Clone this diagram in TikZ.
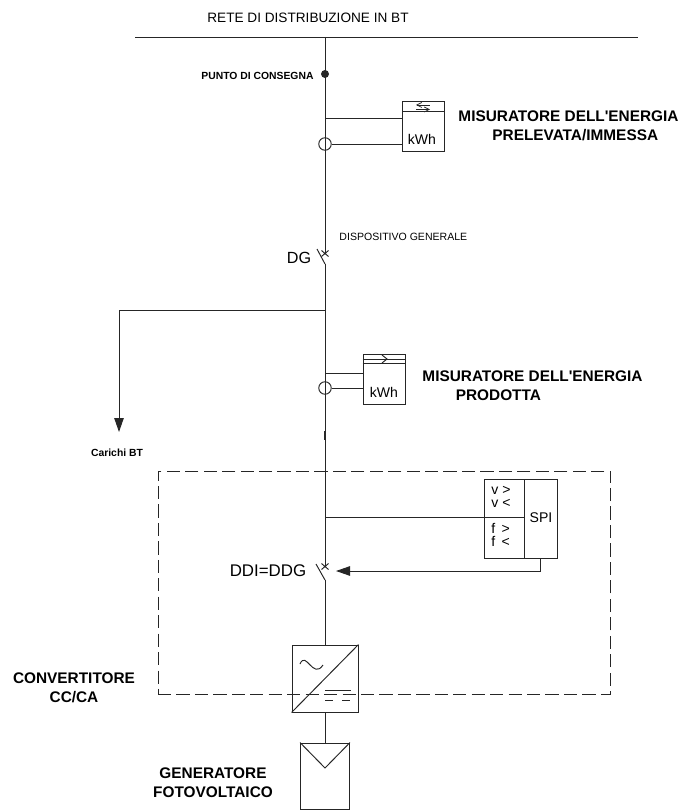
\documentclass[tikz,border=0pt]{standalone}
\usepackage{fontspec}
\setmainfont[Ligatures=TeXOff]{Liberation Sans}
\usepackage{tikz}
\usetikzlibrary{arrows.meta}

\begin{document}
\begin{tikzpicture}[x=0.02cm, y=-0.02cm, line width=0.55pt, color=black!85]
        %style
        \tikzset{meter/.style = {shape=rectangle, draw, minimum width = 0.84cm, minimum height = 1.0cm, inner sep=0pt}}
        \tikzset{panel/.style = {shape=rectangle, draw, inner sep=0pt}}
        \tikzset{relaycell/.style = {shape=rectangle, draw, inner sep=0pt, minimum height = 1.58cm}}
        \tikzset{joint/.style = {shape=circle, draw, inner sep=0pt, minimum size=0.25cm}}
        \tikzset{tag/.style = {inner sep=0pt, align=center, text=black, font=\fontsize{8}{9}\selectfont}}
        \tikzset{bigtag/.style = {inner sep=0pt, align=left, text=black, font=\fontsize{8.75}{10.9}\selectfont\bfseries}}
        \tikzset{smalltag/.style = {inner sep=0pt, text=black, font=\fontsize{5.9}{7}\selectfont\bfseries}}
        \tikzset{feed/.style = {-{Triangle[length=0.28cm, width=0.19cm]}}}
        \useasboundingbox (0,0) rectangle (683,810);
        % bus and main line
        \coordinate (busl) at (135,37);
        \coordinate (busr) at (638,37);
        \coordinate (bust) at (325,37);
        \coordinate (dgtop) at (325,254);
        \coordinate (dgbot) at (325,264);
        \coordinate (dgarm) at (317,249);
        \coordinate (tap) at (325,310);
        \coordinate (ddtop) at (325,567);
        \coordinate (ddbot) at (325,580);
        \coordinate (ddarm) at (316,564);
        \coordinate (spitap) at (325,517);
        \node[circle, fill, inner sep=0pt, minimum size=0.16cm] (point) at (325,74) {};
        \node[joint] (ctone) at (325,144) {};
        \node[joint] (cttwo) at (325,388) {};
        \node[meter] (meterone) at (423.5,126) {};
        \node[meter] (metertwo) at (384,379) {};
        \node[relaycell, minimum width=0.8cm] (relay) at (504,518.5) {};
        \node[relaycell, minimum width=0.66cm] (spi) at (540.5,518.5) {};
        \node[panel, minimum width=1.32cm, minimum height=1.34cm] (inverter) at (325,678.5) {};
        \node[panel, minimum width=0.98cm, minimum height=1.32cm] (module) at (325,776) {};
        \node[draw, dash pattern=on 7.5pt off 3pt, minimum width=9.06cm, minimum height=4.46cm, inner sep=0pt] (zone) at (384.5,582.5) {};
        % main line
        \draw (busl) -- (busr);
        \draw (bust) -- (dgtop);
        \draw (dgbot) -- (dgarm);
        \draw (dgbot) -- (ddtop);
        \draw (ddbot) -- (ddarm);
        \draw (ddbot) -- (inverter.north);
        \draw (inverter.south) -- (module.north);
        \draw[line width=1.1pt] (325,431) -- (325,440);
        \draw (321.5,250.5) -- (328.5,256.5) (328.5,250.5) -- (321.5,256.5);
        \draw (321.5,563.5) -- (328.5,569.5) (328.5,563.5) -- (321.5,569.5);
        % meters
        \draw (325,118) -- (meterone.west |- 325,118);
        \draw (ctone) -- (meterone.west |- ctone);
        \draw (meterone.west |- 0,111) -- (meterone.east |- 0,111);
        \draw[-{Straight Barb[length=1mm,width=1mm]}, line width=0.4pt] (416,109.5) -- (430,109.5);
        \draw[{Straight Barb[length=1mm,width=1mm]}-, line width=0.4pt] (416,105) -- (430,105);
        \node[tag] (kwhone) at (422,139.5) {kWh};
        \draw (325,373) -- (metertwo.west |- 325,373);
        \draw (cttwo) -- (metertwo.west |- cttwo);
        \draw (metertwo.west |- 0,359) -- (metertwo.east |- 0,359);
        \draw (metertwo.west |- 0,363) -- (metertwo.east |- 0,363);
        \draw (382,355) -- (387,359) -- (382,363);
        \node[tag] (kwhtwo) at (384,392) {kWh};
        % loads
        \draw[feed] (tap) -- (119,310) -- (119,432);
        % protection
        \draw (spitap) -- (spi.west |- spitap);
        \draw[feed] (540,558) -- (540,571) -- (336,571);
        \node[tag, anchor=west] (vmax) at (491,490) {v >};
        \node[tag, anchor=west] (vmin) at (491,503) {v <};
        \node[tag, anchor=west] (fmax) at (491,528) {f \,>};
        \node[tag, anchor=west] (fmin) at (491,541) {f \,<};
        \node[tag] (spilabel) at (541,518) {SPI};
        % inverter symbols
        \draw (inverter.south west) -- (inverter.north east);
        \draw (300,664) .. controls (306,650) and (313,680) .. (323,665);
        \draw (325,690) -- (351,690);
        \draw[dash pattern=on 4.6pt off 5pt] (325,700) -- (351,700);
        % module
        \draw (module.north west) -- (325,768) -- (module.north east);
        % labels
        \node[tag, font=\fontsize{7.75}{9}\selectfont] (bus) at (308,18) {RETE DI DISTRIBUZIONE IN BT};
        \node[smalltag, anchor=east] (pointlabel) at (314,76) {PUNTO DI CONSEGNA};
        \node[bigtag, anchor=west] (meteronelabel) at (458,126) {MISURATORE DELL'ENERGIA\\\hspace*{19.3pt}PRELEVATA/IMMESSA};
        \node[tag, font=\fontsize{6}{7}\selectfont, anchor=west] (dglabel) at (339,237) {DISPOSITIVO GENERALE};
        \node[tag, font=\fontsize{9.2}{10}\selectfont] (dg) at (299,258) {DG};
        \node[bigtag, anchor=west] (metertwolabel) at (422,386) {MISURATORE DELL'ENERGIA\\\hspace*{19pt}PRODOTTA};
        \node[smalltag] (loads) at (117,453) {Carichi BT};
        \node[tag, font=\fontsize{9.6}{10}\selectfont] (ddi) at (268,571) {DDI=DDG};
        \node[bigtag, align=center] (invlabel) at (74,688) {CONVERTITORE\\CC/CA};
        \node[bigtag, align=center] (modlabel) at (213,783) {GENERATORE\\FOTOVOLTAICO};
\end{tikzpicture}
\end{document}
